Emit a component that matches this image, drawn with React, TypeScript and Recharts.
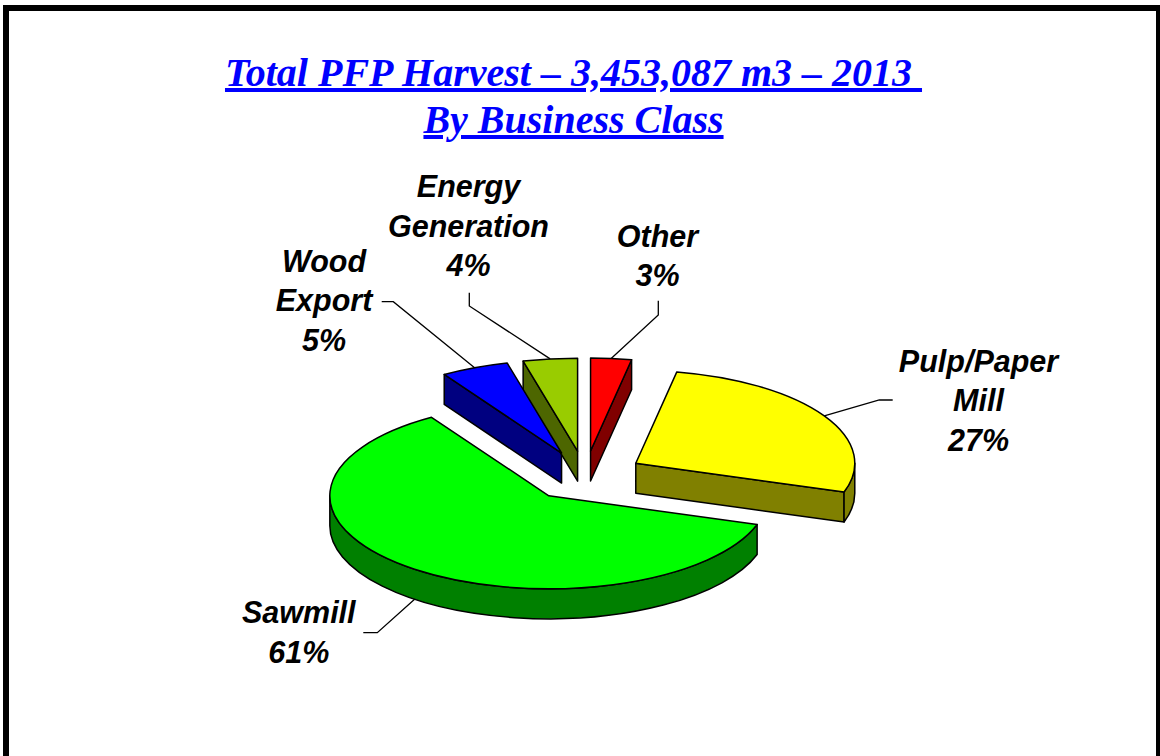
import { PieChart, Pie, Cell } from 'recharts'

const categories = ['Other', 'Pulp/Paper Mill', 'Sawmill', 'Wood Export', 'Energy Generation']
const shares = [3, 27, 61, 5, 4]

const topColors = ['#FF0000', '#FFFF00', '#00FF00', '#0000FF', '#99CC00']
const sideColors = ['#800000', '#808000', '#008000', '#000080', '#4D6600']

const titleLines = ['Total PFP Harvest \u2013 3,453,087 m3 \u2013 2013 ', 'By Business Class']

const data = categories.map((name, i) => ({ name, value: shares[i] }))

// 3d look: ellipse squash, wall height, explode distance
const RAD = Math.PI / 180
const K = 93 / 219
const DEPTH = 30
const EXPLODE = 59

// label placement relative to the pie centre (Excel had them dragged by hand)
const labelLayout: Record<string, { lines: string[]; dx: number; dy: number; leader: number[][] }> = {
  'Other': { lines: ['Other'], dx: 72.5, dy: -229.3, leader: [[73.3, -161], [73.3, -175.3]] },
  'Pulp/Paper Mill': { lines: ['Pulp/Paper', 'Mill'], dx: 393.5, dy: -104.3, leader: [[294.3, -76], [307.7, -76]] },
  'Sawmill': { lines: ['Sawmill'], dx: -286.2, dy: 147.3, leader: [[-207.7, 156.7], [-221.7, 156.7]] },
  'Wood Export': { lines: ['Wood', 'Export'], dx: -261, dy: -204.3, leader: [[-191.7, -174.3], [-203.3, -174.3]] },
  'Energy Generation': { lines: ['Energy', 'Generation'], dx: -116.5, dy: -279, leader: [[-115.7, -170], [-115.7, -183.3]] },
}
const LINE_GAP = 39.5

const origin = (cx: number, cy: number, mid: number) => [
  cx + EXPLODE * Math.cos(mid * RAD),
  cy - EXPLODE * K * Math.sin(mid * RAD),
]
const rim = (o: number[], r: number, a: number, dy = 0) => [
  o[0] + r * Math.cos(a * RAD),
  o[1] - r * K * Math.sin(a * RAD) + dy,
]
const sideOf = (name: string) => sideColors[categories.indexOf(name)]

const TopShape = (props: any) => {
  const { cx, cy, outerRadius: r, startAngle: s, endAngle: e, fill } = props
  const o = origin(cx, cy, (s + e) / 2)
  const p1 = rim(o, r, s)
  const p2 = rim(o, r, e)
  const large = Math.abs(s - e) > 180 ? 1 : 0
  const d = `M${o[0]},${o[1]} L${p1[0]},${p1[1]} A${r},${r * K} 0 ${large} 1 ${p2[0]},${p2[1]} Z`
  return <path d={d} fill={fill} stroke="#000" strokeWidth={1.5} strokeLinejoin="round" />
}

const WallShape = (props: any) => {
  const { cx, cy, outerRadius: r, startAngle: s, endAngle: e } = props
  const name = props.payload?.name ?? props.name
  const side = sideOf(name)
  const o = origin(cx, cy, (s + e) / 2)
  const paths: string[] = []
  const radial = (a: number) => {
    const p = rim(o, r, a)
    return `M${o[0]},${o[1]} L${p[0]},${p[1]} L${p[0]},${p[1] + DEPTH} L${o[0]},${o[1] + DEPTH} Z`
  }
  if (Math.cos(s * RAD) < -1e-6) paths.push(radial(s))
  if (Math.cos(e * RAD) > 1e-6) paths.push(radial(e))
  // front half of the rim (sin < 0)
  for (let k = -2; k <= 1; k++) {
    const hi = Math.min(s, 360 * k)
    const lo = Math.max(e, 360 * k - 180)
    if (hi > lo) {
      const a = rim(o, r, hi)
      const b = rim(o, r, lo)
      paths.push(
        `M${a[0]},${a[1]} A${r},${r * K} 0 0 1 ${b[0]},${b[1]} L${b[0]},${b[1] + DEPTH} A${r},${r * K} 0 0 0 ${a[0]},${a[1] + DEPTH} Z`
      )
    }
  }
  return (
    <g>
      {paths.map((d, i) => (
        <path key={i} d={d} fill={side} stroke="#000" strokeWidth={1.5} strokeLinejoin="round" />
      ))}
    </g>
  )
}

const renderLabel = (props: any) => {
  const { cx, cy, outerRadius: r, startAngle, endAngle, percent } = props
  const name = props.payload?.name ?? props.name
  const lay = labelLayout[name]
  if (!lay) return null
  const mid = (startAngle + endAngle) / 2
  const o = origin(cx, cy, mid)
  const a = rim(o, r, mid, Math.sin(mid * RAD) < 0 ? DEPTH : 0)
  const pts = [a, ...lay.leader.map(([x, y]) => [cx + x, cy + y])].map((p) => p.join(',')).join(' ')
  const lines = [...lay.lines, `${Math.round(percent * 100)}%`]
  return (
    <g>
      <polyline points={pts} fill="none" stroke="#000" strokeWidth={1.3} />
      {lines.map((t, i) => (
        <text
          key={i}
          x={cx + lay.dx}
          y={cy + lay.dy + i * LINE_GAP}
          textAnchor="middle"
          fontFamily="'Liberation Sans', Arial, sans-serif"
          fontWeight="bold"
          fontStyle="italic"
          fontSize={30.5}
          fill="#000"
        >
          {t}
        </text>
      ))}
    </g>
  )
}

export default function App() {
  return (
    <div style={{ position: 'absolute', left: 0, top: 0, width: 1160, height: 756, overflow: 'hidden', background: '#fff' }}>
      <div
        style={{
          position: 'absolute', left: 3, top: 5, width: 1159, height: 800,
          border: '6px solid #000', boxSizing: 'border-box',
        }}
      />
      <div
        style={{
          position: 'absolute', left: 0, top: 49, width: 1147, textAlign: 'center',
          fontFamily: "'Liberation Serif', 'Times New Roman', serif", fontWeight: 'bold', fontStyle: 'italic',
          fontSize: 40, lineHeight: '47px', color: '#0000FF', textDecoration: 'underline', whiteSpace: 'pre',
        }}
      >
        {titleLines.map((t) => (
          <div key={t}>{t}</div>
        ))}
      </div>
      <PieChart
        width={1160}
        height={756}
        margin={{ top: 0, right: 0, bottom: 0, left: 0 }}
        style={{ position: 'absolute', left: 0, top: 0 }}
      >
        <Pie
          data={data}
          dataKey="value"
          nameKey="name"
          cx={585}
          cy={476}
          outerRadius={219}
          startAngle={90}
          endAngle={-270}
          isAnimationActive={false}
          shape={WallShape}
          label={false}
          labelLine={false}
        >
          {data.map((d, i) => (
            <Cell key={d.name} fill={sideColors[i]} />
          ))}
        </Pie>
        <Pie
          data={data}
          dataKey="value"
          nameKey="name"
          cx={585}
          cy={476}
          outerRadius={219}
          startAngle={90}
          endAngle={-270}
          isAnimationActive={false}
          shape={TopShape}
          label={renderLabel}
          labelLine={false}
        >
          {data.map((d, i) => (
            <Cell key={d.name} fill={topColors[i]} />
          ))}
        </Pie>
      </PieChart>
    </div>
  )
}
